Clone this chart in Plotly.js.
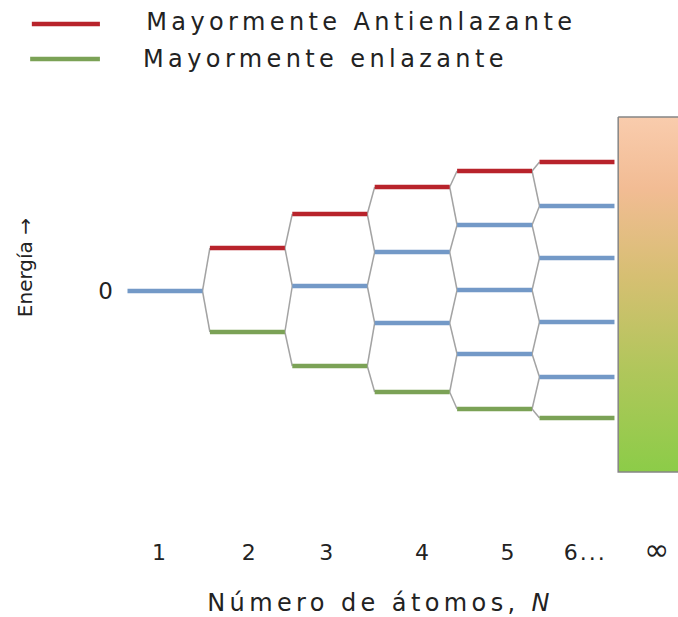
<!DOCTYPE html>
<html>
<head>
<meta charset="utf-8">
<script src="https://cdn.plot.ly/plotly-3.0.1.min.js"></script>
<style>
  html, body { margin: 0; padding: 0; background: #ffffff; }
  #chart { width: 678px; height: 617px; }
  .js-plotly-plot .annotation-text.wide { letter-spacing: 4.4px; }
  .js-plotly-plot .xtick text { letter-spacing: 2px; }
</style>
</head>
<body>
<div id="chart"></div>
<script>
// ---------------- data ----------------
const atomCounts = [1, 2, 3, 4, 5, 6];             // column index = N
const tickLabels = ["1", "2", "3", "4", "5", "6...", "<span style='font-size:30px'>\u221e</span>"];
// energy levels (arbitrary units, 0 = isolated atom), ordered top to bottom
const energiesN1 = [0];
const energiesN2 = [4.3, -4.1];
const energiesN3 = [7.7, 0.5, -7.5];
const energiesN4 = [10.4, 3.9, -3.2, -10.1];
const energiesN5 = [12.0, 6.6, 0.1, -6.3, -11.8];
const energiesN6 = [12.9, 8.5, 3.3, -3.1, -8.6, -12.7];
const bandColumn = 7;                                // N = infinity
const bandEdges = [17.4, -18.1];                     // continuous band top / bottom
const seriesNames = ["Mayormente Antienlazante", "Mayormente enlazante"];
const yTickLabels = ["0"];

// ---------------- drawing ----------------
const columns = [energiesN1, energiesN2, energiesN3, energiesN4, energiesN5, energiesN6];
const HW = 0.455;   // half width of a level bar (x units)
const RED = "#b8232b", GREEN = "#7ba256", BLUE = "#7399c7", GREY = "#a3a3a3";

const red = {x: [], y: []}, green = {x: [], y: []}, blue = {x: [], y: []}, conn = {x: [], y: []};
columns.forEach((levels, c) => {
  const n = atomCounts[c];
  levels.forEach((e, i) => {
    let tgt = blue;
    if (levels.length > 1 && i === 0) tgt = red;
    else if (levels.length > 1 && i === levels.length - 1) tgt = green;
    tgt.x.push(n - HW, n + HW, null);
    tgt.y.push(e, e, null);
    const next = columns[c + 1];
    if (next) {
      [next[i], next[i + 1]].forEach(e2 => {
        conn.x.push(n + HW, n + 1 - HW, null);
        conn.y.push(e, e2, null);
      });
    }
  });
});

const bx0 = bandColumn - 0.5, bx1 = bandColumn + 0.5;
const traces = [
  {type: "scatter", mode: "lines", x: [bx0, bx1, bx1, bx0, bx0],
   y: [bandEdges[0], bandEdges[0], bandEdges[1], bandEdges[1], bandEdges[0]],
   fill: "toself",
   fillgradient: {type: "vertical", start: bandEdges[1], stop: bandEdges[0],
     colorscale: [[0, "#8ccc48"], [0.3, "#b2c65c"], [0.55, "#d6bf72"], [0.8, "#f2bc94"], [1, "#f9ccad"]]},
   line: {color: "#858585", width: 1.5}, hoverinfo: "skip", showlegend: false},
  {type: "scatter", mode: "lines", x: conn.x, y: conn.y, line: {color: GREY, width: 1.5},
   hoverinfo: "skip", showlegend: false},
  {type: "scatter", mode: "lines", x: blue.x, y: blue.y, line: {color: BLUE, width: 4.5},
   name: "Niveles intermedios", showlegend: false},
  {type: "scatter", mode: "lines", x: red.x, y: red.y, line: {color: RED, width: 4.5},
   name: seriesNames[0], showlegend: false},
  {type: "scatter", mode: "lines", x: green.x, y: green.y, line: {color: GREEN, width: 4.5},
   name: seriesNames[1], showlegend: false}
];

const FONT = "DejaVu Sans";
const layout = {
  width: 678, height: 617,
  margin: {l: 120, r: 0, t: 100, b: 87},
  paper_bgcolor: "#ffffff", plot_bgcolor: "#ffffff",
  showlegend: false,
  font: {family: FONT, color: "#222222"},
  xaxis: {
    range: [0.454, 7.226], showgrid: false, zeroline: false, showline: false, ticks: "",
    tickvals: [0.94, 2.03, 2.97, 4.13, 5.17, 6.1, 6.98], ticktext: tickLabels,
    tickfont: {family: FONT, size: 22, color: "#222222"}, ticklabelstandoff: 7
  },
  yaxis: {
    range: [-23.9, 19.1], showgrid: false, zeroline: false, showline: false, ticks: "",
    tickvals: [0], ticktext: yTickLabels,
    tickfont: {family: FONT, size: 23, color: "#222222"}, ticklabelstandoff: 6
  },
  shapes: [
    {type: "line", xref: "paper", yref: "paper", x0: -0.158, x1: -0.036, y0: 1.1767, y1: 1.1767,
     line: {color: RED, width: 4.5}},
    {type: "line", xref: "paper", yref: "paper", x0: -0.161, x1: -0.036, y0: 1.0953, y1: 1.0953,
     line: {color: GREEN, width: 4.5}}
  ],
  annotations: [
    {xref: "paper", yref: "paper", x: 0.4328, y: 1.1813, xanchor: "center", yanchor: "middle",
     text: seriesNames[0], showarrow: false, font: {family: FONT, size: 24, color: "#222222"}},
    {xref: "paper", yref: "paper", x: 0.3674, y: 1.0953, xanchor: "center", yanchor: "middle",
     text: seriesNames[1], showarrow: false, font: {family: FONT, size: 24, color: "#222222"}},
    {xref: "paper", yref: "paper", x: 0.466, y: -0.1698, xanchor: "center", yanchor: "middle",
     text: "Número de átomos, <i>N</i>", showarrow: false, font: {family: FONT, size: 24, color: "#222222"}},
    {xref: "paper", yref: "paper", x: -0.17, y: 0.6093, xanchor: "center", yanchor: "middle",
     text: "Energía \u2192", textangle: -90, showarrow: false, font: {family: FONT, size: 20, color: "#222222"}}
  ]
};

Plotly.newPlot("chart", traces, layout, {displayModeBar: false, staticPlot: true}).then(gd => {
  gd.querySelectorAll(".annotation-text").forEach((t, i) => { if (i < 3) t.classList.add("wide"); });
});
</script>
</body>
</html>
